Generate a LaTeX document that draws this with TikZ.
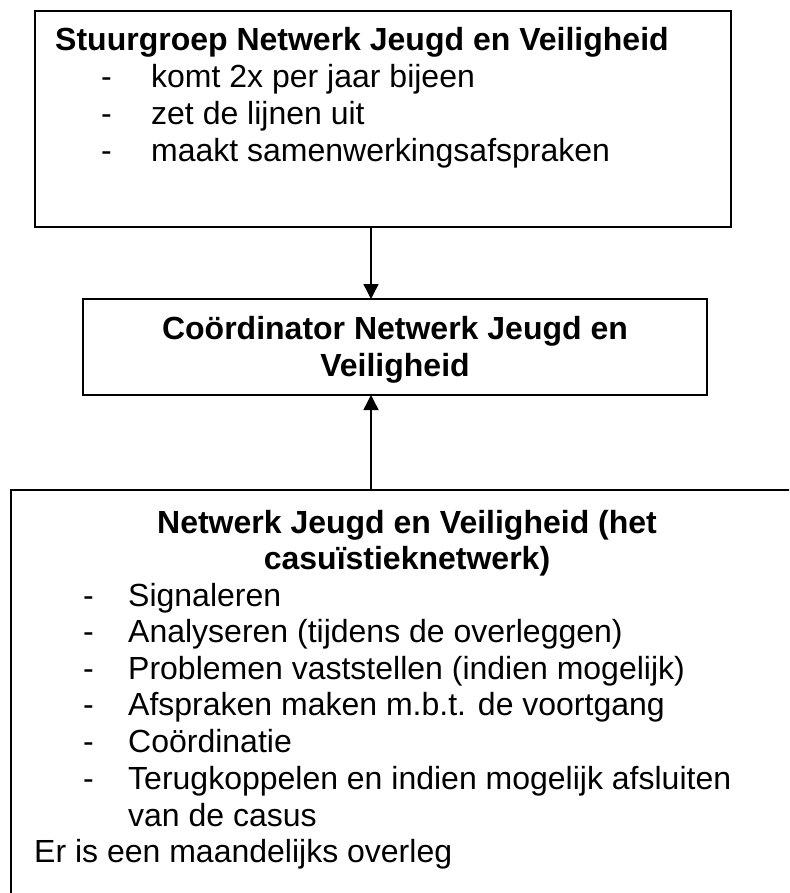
\documentclass[tikz,border=0pt]{standalone}
\usepackage{fontspec}
\setmainfont{Liberation Sans}
\usepackage{tikz}
\usetikzlibrary{arrows.meta}

\begin{document}
\begin{tikzpicture}[x=1pt, y=-1pt,
    box/.style={draw, line width=2.2pt, inner sep=0pt, outer sep=0pt, anchor=north west},
    kop/.style={font=\fontsize{32}{37}\selectfont\bfseries, inner sep=0pt, anchor=base},
    regel/.style={font=\fontsize{32}{37}\selectfont, inner sep=0pt, anchor=base west},
    pijl/.style={line width=1.4pt, -{Triangle[length=15pt, width=15pt]}}]
    \useasboundingbox (0,0) rectangle (789,893);
    \clip (0,0) rectangle (789,893);

    % de drie vakken
    \node[box, minimum width=696pt, minimum height=216pt] (stuur) at (35,11) {};
    \node[box, minimum width=624pt, minimum height=96pt] (coord) at (83,299) {};
    \node[box, minimum width=792pt, minimum height=440pt] (netwerk) at (10.7,490) {};
    \coordinate (lijn) at (371,0);

    % stuurgroep
    \node[regel, font=\fontsize{32}{37}\selectfont\bfseries] (stuurkop) at (55,51) {Stuurgroep Netwerk Jeugd en Veiligheid};
    \foreach \t [count=\i] in {komt 2x per jaar bijeen, zet de lijnen uit, maakt samenwerkingsafspraken} {
        \node[regel] (stuurstreep\i) at (101,{51+37*\i}) {-};
        \node[regel] (stuurtaak\i) at (151,{51+37*\i}) {\t};
    }

    % coordinator
    \node[kop] (coordkop1) at (395,339) {Coördinator Netwerk Jeugd en};
    \node[kop] (coordkop2) at (395,376) {Veiligheid};

    % casuistieknetwerk
    \node[kop] (netwerkkop1) at (407,533) {Netwerk Jeugd en Veiligheid (het};
    \node[kop] (netwerkkop2) at (407,569) {casuïstieknetwerk)};
    \foreach \t [count=\i] in {Signaleren, Analyseren (tijdens de overleggen), Problemen vaststellen (indien mogelijk), Afspraken maken m.b.t. de voortgang, Coördinatie, Terugkoppelen en indien mogelijk afsluiten} {
        \node[regel] (netwerkstreep\i) at (83,{606+36.6*(\i-1)}) {-};
        \node[regel] (netwerktaak\i) at (128,{606+36.6*(\i-1)}) {\t};
    }
    \node[regel] (netwerktaak7) at (128,826) {van de casus};
    \node[regel] (overleg) at (34,862) {Er is een maandelijks overleg};

    % pijlen
    \draw[pijl] (stuur.south -| lijn) -- (coord.north -| lijn);
    \draw[pijl] (netwerk.north -| lijn) -- (coord.south -| lijn);
\end{tikzpicture}
\end{document}
